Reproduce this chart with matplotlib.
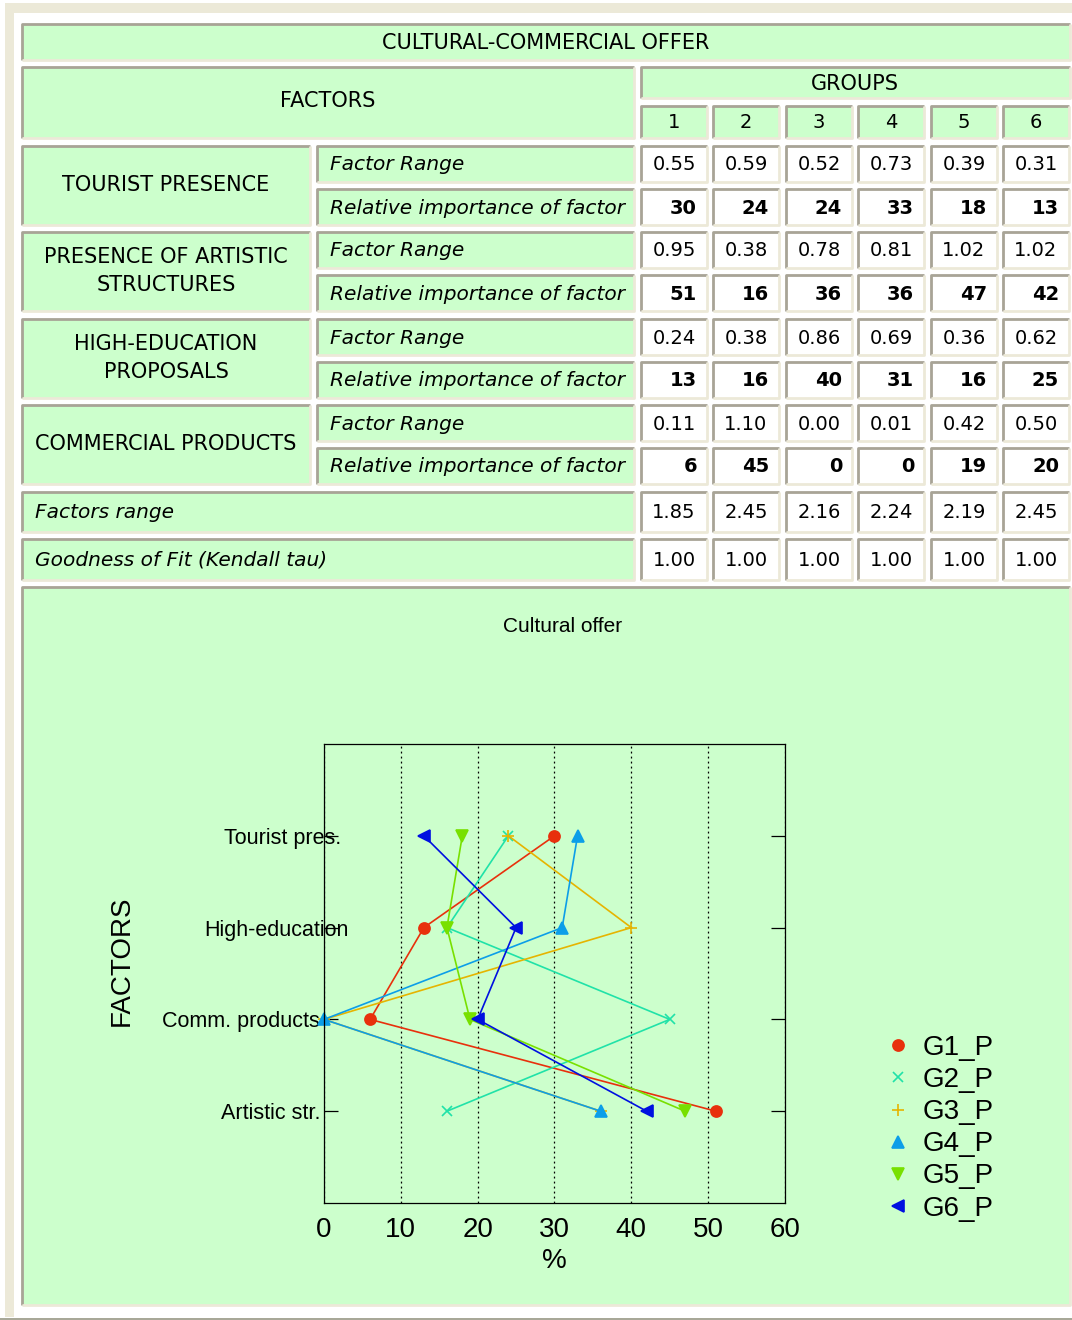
import matplotlib
matplotlib.use("Agg")
import matplotlib.pyplot as plt
from matplotlib.patches import Rectangle
from matplotlib.lines import Line2D
from matplotlib.transforms import ScaledTranslation

# ---- data ----
groups = ["1", "2", "3", "4", "5", "6"]
factor_names = ["TOURIST PRESENCE", "PRESENCE OF ARTISTIC\nSTRUCTURES",
                "HIGH-EDUCATION\nPROPOSALS", "COMMERCIAL PRODUCTS"]
factor_range = [[0.55, 0.59, 0.52, 0.73, 0.39, 0.31],
                [0.95, 0.38, 0.78, 0.81, 1.02, 1.02],
                [0.24, 0.38, 0.86, 0.69, 0.36, 0.62],
                [0.11, 1.10, 0.00, 0.01, 0.42, 0.50]]
rel_importance = [[30, 24, 24, 33, 18, 13],
                  [51, 16, 36, 36, 47, 42],
                  [13, 16, 40, 31, 16, 25],
                  [6, 45, 0, 0, 19, 20]]
factors_range_total = [1.85, 2.45, 2.16, 2.24, 2.19, 2.45]
kendall_tau = [1.00, 1.00, 1.00, 1.00, 1.00, 1.00]

# plot order (top to bottom) and which table row it comes from
plot_labels = ["Tourist pres.", "High-education", "Comm. products", "Artistic str."]
plot_rows = [0, 2, 3, 1]
series_names = ["G1_P", "G2_P", "G3_P", "G4_P", "G5_P", "G6_P"]
series_colors = ["#e8300c", "#20e2a8", "#e6b400", "#0c9ee8", "#78e000", "#0010e0"]
series_markers = ["o", "x", "+", "^", "v", "<"]
series_msize = [8, 6.5, 9, 8.5, 8.5, 8.5]

GREEN = "#ccffcc"
DARK = "#a8a496"
LIGHT = "#ece9d8"
TFONT = "DejaVu Sans"

W, H = 1072, 1320
fig = plt.figure(figsize=(W / 100, H / 100), dpi=100)
fig.patch.set_facecolor("white")
bg = fig.add_axes([0, 0, 1, 1])
bg.set_xlim(0, W)
bg.set_ylim(H, 0)
bg.axis("off")

# window frame
bg.add_patch(Rectangle((5, 3), W - 5, 10, color=LIGHT, lw=0))
bg.add_patch(Rectangle((5, 3), 9, 1314, color=LIGHT, lw=0))
bg.add_patch(Rectangle((0, 1318), W, 2, color="#a8a898", lw=0))


def cell(x0, y0, x1, y1, fill=GREEN):
    bg.add_patch(Rectangle((x0, y0), x1 - x0, y1 - y0, facecolor=fill, lw=0))
    bg.plot([x0, x0, x1], [y1, y0, y0], color=DARK, lw=2, solid_capstyle="butt")
    bg.plot([x0, x1, x1], [y1, y1, y0], color=LIGHT, lw=2, solid_capstyle="butt")


def txt(x, y, s, ha="center", **kw):
    kw.setdefault("fontsize", 15)
    kw.setdefault("family", TFONT)
    bg.text(x, y, s, ha=ha, va="center", **kw)


col_l = [641, 713, 786, 858, 931, 1003]
col_w = 66

# header
cell(22, 24, 1070, 60)
txt(546, 43, "CULTURAL-COMMERCIAL OFFER")
cell(22, 67, 634, 138)
txt(328, 101, "FACTORS")
cell(641, 67, 1070, 98)
txt(855, 84, "GROUPS")
for j, g in enumerate(groups):
    cell(col_l[j], 106, col_l[j] + col_w, 138)
    txt(col_l[j] + col_w / 2, 123, g, fontsize=14)

# factor blocks
block_top = [146, 232, 319, 405]
for i, name in enumerate(factor_names):
    t = block_top[i]
    cell(22, t, 310, t + 79)
    txt(166, t + 39, name, linespacing=1.45)
    cell(317, t, 634, t + 36)
    txt(330, t + 19, "Factor Range", ha="left", style="italic", fontsize=14.5)
    cell(317, t + 43, 634, t + 79)
    txt(330, t + 62, "Relative importance of factor", ha="left", style="italic",
        fontsize=14.5)
    for j in range(len(groups)):
        x0 = col_l[j]
        cell(x0, t, x0 + col_w, t + 36, fill="white")
        txt(x0 + col_w / 2, t + 19, "%.2f" % factor_range[i][j], fontsize=14)
        cell(x0, t + 43, x0 + col_w, t + 79, fill="white")
        txt(x0 + col_w - 10, t + 62, "%d" % rel_importance[i][j], ha="right",
            weight="bold", fontsize=14)

cell(22, 492, 634, 532)
txt(35, 513, "Factors range", ha="left", style="italic", fontsize=14.5)
cell(22, 539, 634, 580)
txt(35, 560, "Goodness of Fit (Kendall tau)", ha="left", style="italic", fontsize=14.5)
for j in range(len(groups)):
    x0 = col_l[j]
    cell(x0, 492, x0 + col_w, 532, fill="white")
    txt(x0 + col_w / 2, 513, "%.2f" % factors_range_total[j], fontsize=14)
    cell(x0, 539, x0 + col_w, 580, fill="white")
    txt(x0 + col_w / 2, 560, "%.2f" % kendall_tau[j], fontsize=14)

# chart panel
cell(22, 587, 1070, 1305)

# ---- chart ----
CFONT = "Liberation Sans"
ax = fig.add_axes([324 / W, 1 - 1203 / H, 461 / W, 459 / H])
ax.set_facecolor("none")
ypos = [4, 3, 2, 1]
for k in range(len(series_names)):
    xs = [rel_importance[r][k] for r in plot_rows]
    ax.plot(xs, ypos, color=series_colors[k], lw=1.2, marker=series_markers[k],
            ms=series_msize[k], mew=1.2, clip_on=False)
ax.set_xlim(0, 60)
ax.set_ylim(0, 5)
ax.set_xticks(range(0, 61, 10))
ax.set_yticks(ypos)
ax.set_yticklabels(plot_labels, family=CFONT, fontsize=15.5)
ax.xaxis.grid(True, color="black", linestyle=(0, (1.5, 2.5)), lw=0.9)
ax.tick_params(axis="x", length=0, labelsize=20, pad=10)
ax.tick_params(axis="y", direction="in", length=10, width=0.9, right=True, pad=-12)
# the original labels sit unevenly against the axis
label_shift_px = [1, 8, -21, -20]
for lab, dx in zip(ax.get_yticklabels(), label_shift_px):
    lab.set_transform(lab.get_transform() + ScaledTranslation(dx / 100, 0, fig.dpi_scale_trans))
for lab in ax.get_xticklabels():
    lab.set_family(CFONT)
for s in ax.spines.values():
    s.set_linewidth(0.9)
ax.set_xlabel("%", family=CFONT, fontsize=20, labelpad=4)
ax.set_ylabel("FACTORS", family=CFONT, fontsize=20)
ax.yaxis.set_label_coords((135 - 324) / 461, (1203 - 961) / 459)
fig.text(563 / W, 1 - 626 / H, "Cultural offer", ha="center", va="center",
         family=CFONT, fontsize=15)

handles = [Line2D([], [], color=series_colors[k], marker=series_markers[k],
                  ms=series_msize[k], mew=1.2, linestyle="none")
           for k in range(len(series_names))]
fig.legend(handles, series_names, loc="upper left",
           bbox_to_anchor=(884 / W, 1 - 1035 / H), frameon=False,
           prop={"family": CFONT, "size": 20}, labelspacing=0.22,
           handlelength=1.0, handletextpad=0.4, borderpad=0, borderaxespad=0)

fig.savefig("out.png", dpi=100)
